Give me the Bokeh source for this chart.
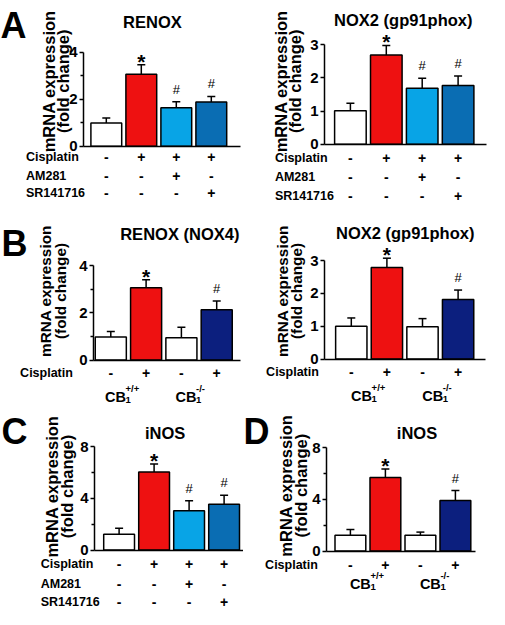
import math
from bokeh.plotting import figure
from bokeh.models import Range1d, FixedTicker, Label, ColumnDataSource
from bokeh.layouts import row, column
from bokeh.embed import file_html
from bokeh.resources import INLINE
from bokeh.core.properties import value

FONT = "Liberation Sans"
RED = "#ee1111"
LIGHT = "#08a4e6"
DARK = "#0a6db3"
NAVY = "#0c1f7e"

# ---------------- data ----------------
bar_index = [1, 2, 3, 4]

cisplatin_a = ["-", "+", "+", "+"]
am281_a = ["-", "-", "+", "-"]
sr141716_a = ["-", "-", "-", "+"]
cisplatin_b = ["-", "+", "-", "+"]
genotype_sup = ["+/+", "-/-"]

renox_mean = [0.99, 3.06, 1.64, 1.88]
renox_err = [0.21, 0.41, 0.25, 0.24]
nox2_a_mean = [1.01, 2.69, 1.69, 1.77]
nox2_a_err = [0.23, 0.29, 0.30, 0.29]
nox4_b_mean = [0.97, 3.06, 0.94, 2.13]
nox4_b_err = [0.24, 0.34, 0.45, 0.37]
nox2_b_mean = [1.00, 2.79, 0.98, 1.81]
nox2_b_err = [0.25, 0.28, 0.25, 0.29]
inos_c_mean = [1.22, 6.04, 3.05, 3.55]
inos_c_err = [0.48, 0.63, 0.76, 0.69]
inos_d_mean = [1.22, 5.70, 1.22, 3.92]
inos_d_err = [0.45, 0.65, 0.25, 0.76]

marks_a = ["", "*", "#", "#"]
marks_b = ["", "*", "", "#"]
colors_a = ["white", RED, LIGHT, DARK]
colors_b = ["white", RED, "white", NAVY]


def add_label(p, x, y, text, size, bold=True, align="left", baseline="middle", angle=0.0):
    p.add_layout(Label(x=x, y=y, text=text, text_font=FONT,
                       text_font_size=f"{size}px",
                       text_font_style="bold" if bold else "normal",
                       text_align=align, text_baseline=baseline, angle=angle,
                       text_color="black"))


def build(spec):
    W, H = spec["W"], spec["H"]
    ax, fr = spec["ax"], spec["fr"]
    c1, sp = spec["c1"], spec["sp"]
    y0, ytop, yval = spec["y0"], spec["ytop"], spec["yval"]
    k = (y0 - ytop) / yval

    def dx(px):
        return 1 + (px - c1) / sp

    def dy(py):
        return (y0 - py) / k

    p = figure(width=W, height=H, x_range=Range1d(dx(0), dx(W)), y_range=Range1d(dy(H), dy(0)),
               x_axis_location="below", y_axis_location="left",
               toolbar_location=None, output_backend="svg",
               min_border_left=0, min_border_right=0,
               min_border_top=0, min_border_bottom=0)
    p.outline_line_color = None
    p.grid.visible = False
    p.background_fill_color = "white"
    p.border_fill_color = "white"

    yaxis = p.yaxis[0]
    yaxis.fixed_location = dx(ax)
    yaxis.ticker = FixedTicker(ticks=spec["ticks"], minor_ticks=spec["minor"])
    yaxis.bounds = (0, yval)
    yaxis.axis_line_width = 1.5
    yaxis.major_tick_line_width = 1.5
    yaxis.minor_tick_line_width = 1.5
    yaxis.major_tick_out = 4
    yaxis.major_tick_in = 0
    yaxis.minor_tick_out = 3
    yaxis.minor_tick_in = 0
    yaxis.major_label_standoff = 2
    yaxis.major_label_text_font = FONT
    yaxis.major_label_text_font_size = "15px"
    yaxis.major_label_text_font_style = "bold"
    yaxis.major_label_text_color = "black"

    xaxis = p.xaxis[0]
    xaxis.fixed_location = 0
    xaxis.bounds = (dx(ax), dx(fr))
    xaxis.ticker = FixedTicker(ticks=[])
    xaxis.axis_line_width = 1.5
    xaxis.major_tick_out = 0
    xaxis.major_tick_in = 0
    xaxis.minor_tick_out = 0
    xaxis.minor_tick_in = 0
    xaxis.major_label_text_color = None

    mean, err = spec["mean"], spec["err"]
    tops = [m + e for m, e in zip(mean, err)]
    cap = 4.0 / sp
    src = ColumnDataSource(dict(x=bar_index, top=mean, etop=tops,
                                xl=[i - cap for i in bar_index],
                                xr=[i + cap for i in bar_index],
                                color=spec["colors"], mark=spec["marks"]))

    p.segment(x0="x", y0="top", x1="x", y1="etop", source=src,
              line_color="black", line_width=1.5)
    p.segment(x0="xl", y0="etop", x1="xr", y1="etop", source=src,
              line_color="black", line_width=1.5)
    p.vbar(x="x", top="top", bottom=0, width=0.88, source=src,
           fill_color="color", line_color="black", line_width=1.5)

    star_idx = [i for i, m in enumerate(spec["marks"]) if m == "*"]
    hash_idx = [i for i, m in enumerate(spec["marks"]) if m == "#"]
    p.text(x=[bar_index[i] for i in star_idx], y=[tops[i] for i in star_idx],
           text=["*"] * len(star_idx), text_align="center", text_baseline="bottom",
           y_offset=8, text_font=value(FONT), text_font_size="21px",
           text_font_style="bold", text_color="black")
    p.text(x=[bar_index[i] for i in hash_idx], y=[tops[i] for i in hash_idx],
           text=["#"] * len(hash_idx), text_align="center", text_baseline="bottom",
           y_offset=-5, text_font=value(FONT), text_font_size="13px",
           text_font_style="normal", text_color="black")

    for name, signs, py in spec["rows"]:
        p.text(x=bar_index, y=[dy(py)] * 4, text=signs, text_align="center",
               text_baseline="middle", text_font=value(FONT), text_font_size="14px",
               text_font_style="bold", text_color="black")
        add_label(p, dx(spec["row_left"]), dy(py), name, 12.5)

    if spec.get("cb"):
        base, off = spec["cb"]
        for centre, sup in zip([1.5, 3.5], genotype_sup):
            xl = centre + off / sp
            add_label(p, xl, dy(base), "CB", 14.5, baseline="alphabetic")
            add_label(p, xl + 20.5 / sp, dy(base - 8), sup, 9.5, baseline="alphabetic")
            add_label(p, xl + 20.5 / sp, dy(base + 3), "1", 9.5, baseline="alphabetic")

    tname, tx, ty = spec["title"]
    add_label(p, dx(tx), dy(ty), tname, 16.5, align="center")

    l1, l2, yc, ls = spec["ylab"]
    add_label(p, dx(l1), dy(yc), "mRNA expression", ls, align="center", angle=math.pi / 2)
    add_label(p, dx(l2), dy(yc), "(fold change)", ls, align="center", angle=math.pi / 2)

    if spec.get("letter"):
        letter, lx, ly = spec["letter"]
        add_label(p, dx(lx), dy(ly), letter, 36, baseline="alphabetic")
    return p


rows_a_left = [("Cisplatin", cisplatin_a, 156.6), ("AM281", am281_a, 175.3),
               ("SR141716", sr141716_a, 192.1)]
rows_a_right = [("Cisplatin", cisplatin_a, 157.6), ("AM281", am281_a, 176.3),
                ("SR141716", sr141716_a, 195.0)]
rows_c = [("Cisplatin", cisplatin_a, 159.4), ("AM281", am281_a, 179.1),
          ("SR141716", sr141716_a, 197.8)]

specs = {
    "A1": dict(W=248, H=222, ax=83, fr=240, c1=105.8, sp=35.0, y0=145.8, ytop=51.7, yval=4,
               ticks=[0, 2, 4], minor=[1, 3], mean=renox_mean, err=renox_err,
               colors=colors_a, marks=marks_a, rows=rows_a_left, row_left=25.5,
               title=("RENOX", 151.9, 21.7), ylab=(48.5, 62.5, 80.8, 16.5), letter=("A", 0, 24.6)),
    "A2": dict(W=241, H=222, ax=76, fr=238, c1=101.9, sp=35.9, y0=143.8, ytop=44.3, yval=3,
               ticks=[0, 1, 2, 3], minor=[], mean=nox2_a_mean, err=nox2_a_err,
               colors=colors_a, marks=marks_a, rows=rows_a_right, row_left=26.4,
               title=("NOX2 (gp91phox)", 154.8, 19.7), ylab=(32.0, 46.5, 80.8, 16.5)),
    "B1": dict(W=248, H=182, ax=93, fr=240, c1=110.3, sp=35.3, y0=137.5, ytop=43.0, yval=4,
               ticks=[0, 2, 4], minor=[1, 3], mean=nox4_b_mean, err=nox4_b_err,
               colors=colors_b, marks=marks_b, rows=[("Cisplatin", cisplatin_b, 150.3)],
               row_left=19.6, cb=(174, -23.5),
               title=("RENOX (NOX4)", 179.3, 11.0), ylab=(45.0, 59.5, 68.5, 15.3),
               letter=("B", 1, 21.3)),
    "B2": dict(W=241, H=182, ax=76, fr=237, c1=102.8, sp=35.6, y0=136.5, ytop=38.0, yval=3,
               ticks=[0, 1, 2, 3], minor=[], mean=nox2_b_mean, err=nox2_b_err,
               colors=colors_b, marks=marks_b, rows=[("Cisplatin", cisplatin_b, 149.3)],
               row_left=17.6, cb=(173, -18),
               title=("NOX2 (gp91phox)", 156.7, 10.5), ylab=(33.5, 48.0, 68.5, 15.3)),
    "C": dict(W=243, H=205, ax=94, fr=243, c1=118.6, sp=35.0, y0=145.6, ytop=42.2, yval=8,
              ticks=[0, 4, 8], minor=[2, 6], mean=inos_c_mean, err=inos_c_err,
              colors=colors_a, marks=marks_a, rows=rows_c, row_left=40.2,
              title=("iNOS", 164.6, 28.4), ylab=(51.5, 66.0, 82.0, 16.5), letter=("C", 1, 27.4)),
    "D": dict(W=246, H=205, ax=83, fr=232, c1=106.9, sp=35.0, y0=146.6, ytop=43.2, yval=8,
              ticks=[0, 4, 8], minor=[2, 6], mean=inos_d_mean, err=inos_d_err,
              colors=colors_b, marks=marks_b, rows=[("Cisplatin", cisplatin_b, 160.4)],
              row_left=21.6, cb=(179, -18),
              title=("iNOS", 173.5, 28.4), ylab=(42.5, 57.0, 81.1, 16.5), letter=("D", 0, 27.4)),
}

figs = {k: build(v) for k, v in specs.items()}
layout = column(row(figs["A1"], figs["A2"]), row(figs["B1"], figs["B2"]),
                row(figs["C"], figs["D"]))

open("out.html", "w").write(file_html(layout, INLINE))
